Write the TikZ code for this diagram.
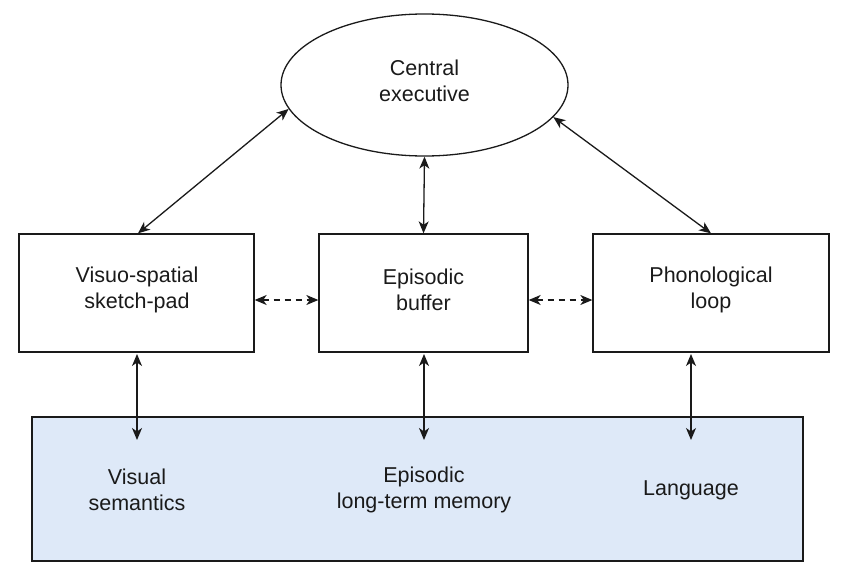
\documentclass[tikz,border=0pt]{standalone}
\usepackage{fontspec}
\setmainfont{Liberation Sans}
\usetikzlibrary{shapes.geometric,arrows.meta}
\definecolor{membg}{HTML}{DEE9F8}
\definecolor{ink}{HTML}{1A1A1A}
\begin{document}
\begin{tikzpicture}[x=1pt,y=-1pt,
  every node/.style={font=\fontsize{21.5}{26}\selectfont, text=ink, align=center},
  compbox/.style={draw=ink, line width=1.3pt, rectangle, inner sep=0pt},
  link/.style={draw=ink, line width=1.3pt, {Stealth[length=12pt,width=10pt,inset=3.5pt]}-{Stealth[length=12pt,width=10pt,inset=3.5pt]}},
  dlink/.style={link, dash pattern=on 6pt off 5pt},
  lbl/.style={inner sep=0pt}
]
\useasboundingbox (0,0) rectangle (850,578);
% long-term memory box
\node[compbox, fill=membg, minimum width=771pt, minimum height=144pt] (mem) at (417.5,489) {};
% central executive
\node[draw=ink, line width=1.3pt, ellipse, minimum width=287pt, minimum height=142pt, inner sep=0pt] (ce) at (424.5,85) {};
\node[lbl] (cet) at (424.5,81) {Central\\executive};
% components
\node[compbox, minimum width=235pt, minimum height=118pt] (vs) at (136.5,293) {};
\node[lbl] (vst) at (137,290) {Visuo-spatial\\sketch-pad};
\node[compbox, minimum width=209pt, minimum height=118pt] (eb) at (423.5,293) {};
\node[lbl] (ebt) at (423.5,290) {Episodic\\buffer};
\node[compbox, minimum width=236pt, minimum height=118pt] (pl) at (711,293) {};
\node[lbl] (plt) at (711,290) {Phonological\\loop};
% memory texts
\node[lbl] (vsem) at (137,490) {Visual\\semantics};
\node[lbl] (eltm) at (424,490) {Episodic\\long-term memory};
\node[lbl] (lang) at (691,490) {Language};
% arrow end points
\coordinate (vsbot) at (137,354);
\coordinate (ebbot) at (424,354);
\coordinate (plbot) at (691,354);
\coordinate (vsend) at (137,440);
\coordinate (ebend) at (424,440);
\coordinate (plend) at (691,440);
% connectors
\draw[link] (ce.190) -- ([xshift=1.5pt]vs.north);
\draw[link] (ce.south) -- (eb.north);
\draw[link] (ce.346) -- (pl.north);
\draw[dlink] ([yshift=-7pt]vs.east) -- ([yshift=-7pt]eb.west);
\draw[dlink] ([yshift=-7pt]eb.east) -- ([yshift=-7pt]pl.west);
\draw[link] (vsbot) -- (vsend);
\draw[link] (ebbot) -- (ebend);
\draw[link] (plbot) -- (plend);
\end{tikzpicture}
\end{document}
